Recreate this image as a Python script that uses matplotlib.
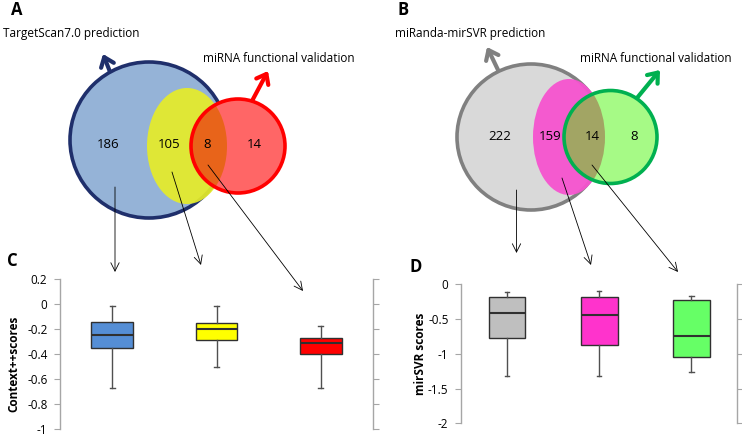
import matplotlib
matplotlib.use("Agg")
import matplotlib.pyplot as plt
from matplotlib.patches import Ellipse, Circle

plt.rcParams['font.family'] = ['Open Sans', 'DejaVu Sans']

# ---------------- data ----------------
venn_a_counts = [186, 105, 8, 14]
venn_b_counts = [222, 159, 14, 8]
venn_a_titles = ["TargetScan7.0 prediction", "miRNA functional validation"]
venn_b_titles = ["miRanda-mirSVR prediction", "miRNA functional validation"]

# panel C: Context++ scores (whislo, q1, med, q3, whishi)
c_whislo = [-0.675, -0.505, -0.675]
c_q1 = [-0.352, -0.288, -0.400]
c_med = [-0.243, -0.200, -0.312]
c_q3 = [-0.144, -0.152, -0.267]
c_whishi = [-0.012, -0.012, -0.176]
c_colors = ["#558ED5", "#FFFF00", "#FF0000"]
c_ticks = [0.2, 0, -0.2, -0.4, -0.6, -0.8, -1]
c_ticklabels = ["0.2", "0", "-0.2", "-0.4", "-0.6", "-0.8", "-1"]

# panel D: mirSVR scores
d_whislo = [-1.314, -1.319, -1.257]
d_q1 = [-0.771, -0.867, -1.052]
d_med = [-0.414, -0.448, -0.743]
d_q3 = [-0.176, -0.186, -0.233]
d_whishi = [-0.105, -0.095, -0.162]
d_colors = ["#BFBFBF", "#FF33CC", "#66FF66"]
d_ticks = [0, -0.5, -1, -1.5, -2]
d_ticklabels = ["0", "-0.5", "-1", "-1.5", "-2"]

W, H = 742, 434
fig = plt.figure(figsize=(W / 100, H / 100), dpi=100)
ax0 = fig.add_axes([0, 0, 1, 1])
ax0.set_xlim(0, W)
ax0.set_ylim(H, 0)
ax0.axis('off')

FS = 8.5
FSN = 9.5

# ---------------- Venn A ----------------
blue = Ellipse((149, 140), 158, 156, facecolor="#95B3D7", edgecolor="#1F2F6B", lw=2.6, zorder=1)
ax0.add_patch(blue)
yellow = Ellipse((187, 146), 80, 116, facecolor="#E6EC28", edgecolor="none", alpha=0.92, zorder=2)
ax0.add_patch(yellow)
red_c = Circle((238, 146), 47, facecolor="#FF6666", edgecolor="none", zorder=3)
ax0.add_patch(red_c)
orange = Ellipse((187, 146), 80, 116, facecolor="#E8641A", edgecolor="none", zorder=4)
ax0.add_patch(orange)
orange.set_clip_path(red_c)
ax0.add_patch(Circle((238, 146), 47, facecolor="none", edgecolor="#FF0000", lw=2.6, zorder=5))

for x, v in zip([108, 169, 207, 254], venn_a_counts):
    ax0.text(x, 144, str(v), ha='center', va='center', fontsize=FSN, zorder=6)
ax0.text(3, 33, venn_a_titles[0], ha='left', va='center', fontsize=FS)
ax0.text(203, 58, venn_a_titles[1], ha='left', va='center', fontsize=FS)
ax0.text(17, 10, "A", ha='center', va='center', fontsize=12, fontweight='bold')

big = dict(arrowstyle='->,head_length=0.45,head_width=0.35', lw=3, mutation_scale=14, shrinkA=0, shrinkB=0)
ax0.annotate("", xy=(103, 54), xytext=(114, 82), arrowprops=dict(color="#1F2F6B", **big), zorder=0)
ax0.annotate("", xy=(268, 71), xytext=(252, 101), arrowprops=dict(color="#FF0000", **big), zorder=0)

thin = dict(arrowstyle='->,head_length=0.5,head_width=0.25', lw=0.6, color='black', mutation_scale=12,
            shrinkA=0, shrinkB=0)
ax0.annotate("", xy=(115, 272), xytext=(115, 187), arrowprops=thin, zorder=7)
ax0.annotate("", xy=(201, 265), xytext=(172, 172), arrowprops=thin, zorder=7)
ax0.annotate("", xy=(303, 291), xytext=(208, 165), arrowprops=thin, zorder=7)

# ---------------- Venn B ----------------
ax0.add_patch(Ellipse((531, 137), 148, 146, facecolor="#D9D9D9", edgecolor="#808080", lw=2.6, zorder=1))
ax0.add_patch(Ellipse((569, 137), 72, 116, facecolor="#F653CF", edgecolor="none", alpha=0.95, zorder=2))
green_c = Circle((610.5, 137), 46.5, facecolor="#A6FA86", edgecolor="none", zorder=3)
ax0.add_patch(green_c)
olive = Ellipse((569, 137), 72, 116, facecolor="#A2A564", edgecolor="none", zorder=4)
ax0.add_patch(olive)
olive.set_clip_path(green_c)
ax0.add_patch(Circle((610.5, 137), 46.5, facecolor="none", edgecolor="#00B050", lw=2.6, zorder=5))

for x, v in zip([500, 550, 592, 634], venn_b_counts):
    ax0.text(x, 137, str(v), ha='center', va='center', fontsize=FSN, zorder=6)
ax0.text(395, 33, venn_b_titles[0], ha='left', va='center', fontsize=FS)
ax0.text(580, 58, venn_b_titles[1], ha='left', va='center', fontsize=FS)
ax0.text(403, 10, "B", ha='center', va='center', fontsize=12, fontweight='bold')

ax0.annotate("", xy=(487, 47), xytext=(499, 72), arrowprops=dict(color="#808080", **big), zorder=0)
ax0.annotate("", xy=(660, 70), xytext=(637, 98), arrowprops=dict(color="#00B050", **big), zorder=0)

ax0.annotate("", xy=(516.5, 253), xytext=(516.5, 190), arrowprops=thin, zorder=7)
ax0.annotate("", xy=(591, 265), xytext=(562, 178), arrowprops=thin, zorder=7)
ax0.annotate("", xy=(678, 272), xytext=(592, 165), arrowprops=thin, zorder=7)

ax0.text(12, 261, "C", ha='center', va='center', fontsize=12, fontweight='bold')
ax0.text(416, 267, "D", ha='center', va='center', fontsize=12, fontweight='bold')

# y-axis labels (absolute placement)
ax0.text(14, 364, "Context++scores", rotation=90, ha='center', va='center', fontsize=FS, fontweight='bold')
ax0.text(420, 354, "mirSVR scores", rotation=90, ha='center', va='center', fontsize=FS, fontweight='bold')

# ---------------- box plots ----------------
AX_GRAY = "#A6A6A6"


def make_box_axes(rect, whislo, q1, med, q3, whishi, colors, ticks, ticklabels, ylim):
    ax = fig.add_axes(rect)
    ax.set_facecolor('none')
    stats = []
    for i in range(len(med)):
        stats.append(dict(whislo=whislo[i], q1=q1[i], med=med[i], q3=q3[i], whishi=whishi[i], fliers=[]))
    bp = ax.bxp(stats, positions=[1, 2, 3], widths=0.4, patch_artist=True, showfliers=False,
                capwidths=0.05,
                boxprops=dict(edgecolor="#303030", lw=1.0),
                medianprops=dict(color="#303030", lw=1.5),
                whiskerprops=dict(color="#505050", lw=1.0),
                capprops=dict(color="#505050", lw=1.0))
    for patch, col in zip(bp['boxes'], colors):
        patch.set_facecolor(col)
    ax.set_xlim(0.5, 3.5)
    ax.set_ylim(*ylim)
    ax.set_xticks([])
    ax.set_yticks(ticks)
    ax.set_yticklabels(ticklabels)
    for s in ['top', 'bottom']:
        ax.spines[s].set_visible(False)
    for s in ['left', 'right']:
        ax.spines[s].set_color(AX_GRAY)
        ax.spines[s].set_linewidth(1.0)
    ax.tick_params(axis='y', which='both', direction='out', length=4, color=AX_GRAY,
                   labelsize=FS, pad=5, left=True, right=True, labelleft=True, labelright=False)
    return ax


axC = make_box_axes([60 / W, 1 - 429 / H, (373 - 60) / W, (429 - 279.3) / H],
                    c_whislo, c_q1, c_med, c_q3, c_whishi, c_colors, c_ticks, c_ticklabels,
                    (-1, 0.2))

axD = make_box_axes([461 / W, 1 - 423.3 / H, (737.3 - 461) / W, (423.3 - 284.3) / H],
                    d_whislo, d_q1, d_med, d_q3, d_whishi, d_colors, d_ticks, d_ticklabels,
                    (-2, 0))

fig.savefig("out.png", dpi=100)
